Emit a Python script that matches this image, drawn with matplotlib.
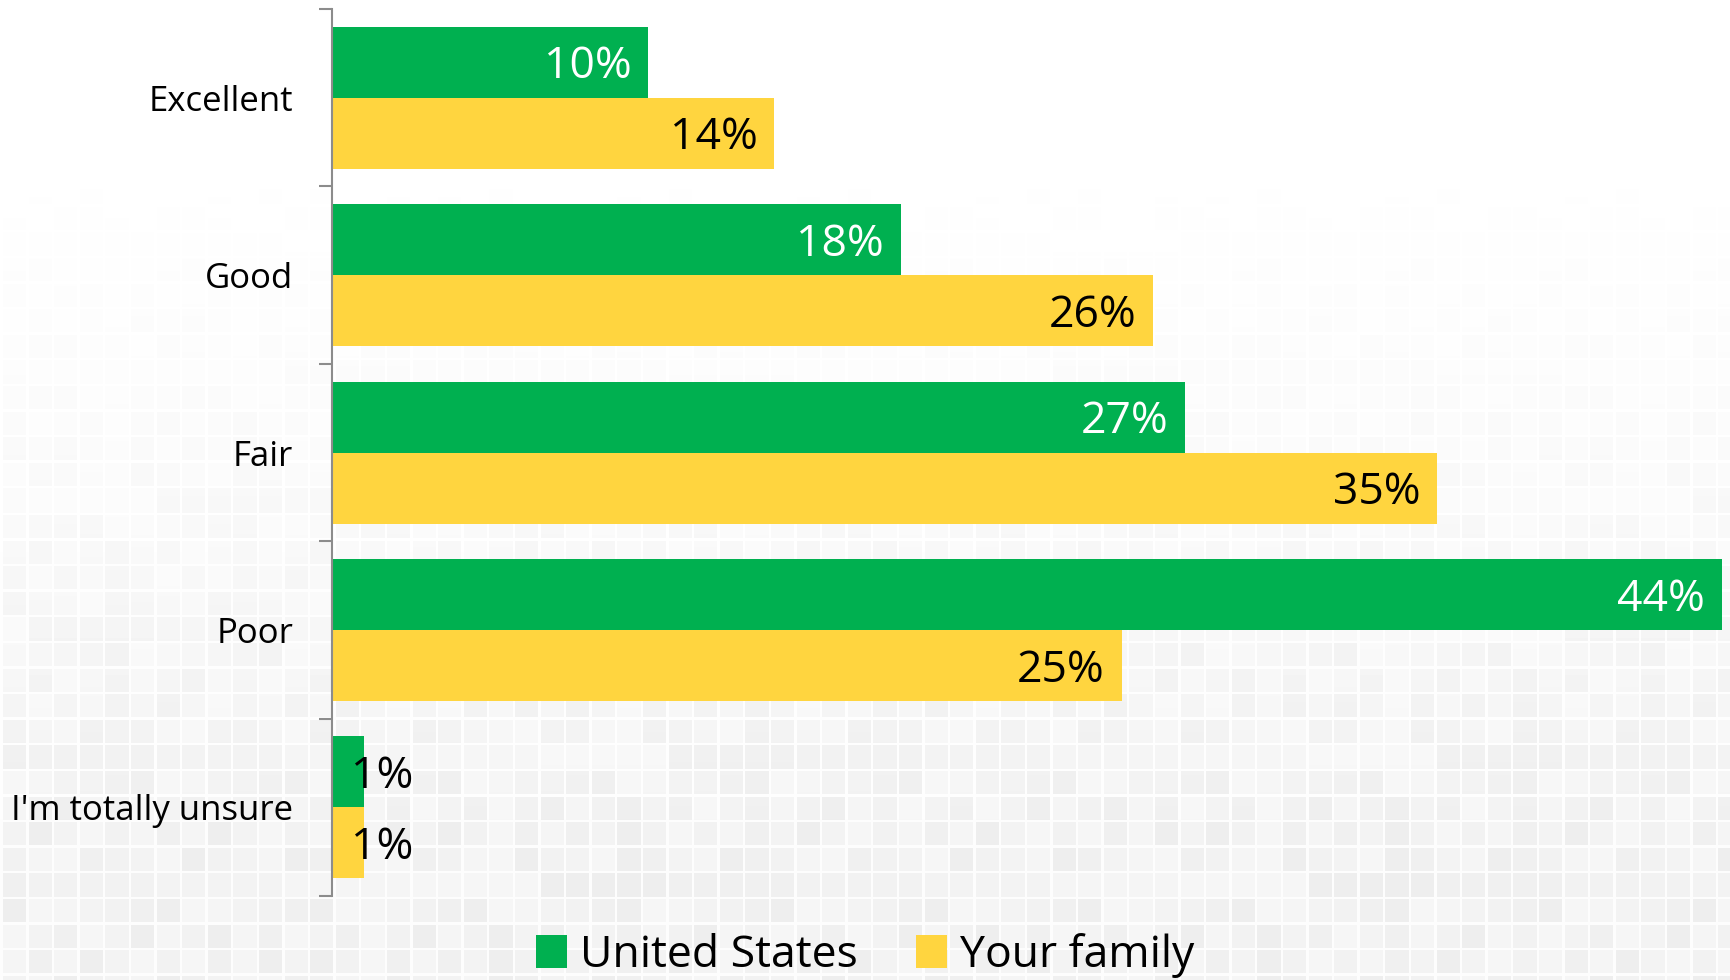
import matplotlib
matplotlib.use("Agg")
import matplotlib.pyplot as plt
import numpy as np

plt.rcParams['font.family'] = ['Open Sans', 'DejaVu Sans']

categories = ["Excellent", "Good", "Fair", "Poor", "I'm totally unsure"]
us_values = [10, 18, 27, 44, 1]
family_values = [14, 26, 35, 25, 1]
series_names = ["United States", "Your family"]

GREEN = "#00B050"
YELLOW = "#FFD53F"
AXIS_GRAY = "#8c8c8c"


def tile_background(fig):
  # decorative mosaic that fades in toward the bottom
  h, w = 980, 1730
  period = 25.6
  yy, xx = np.mgrid[0:h, 0:w]
  row = (yy // period).astype(int)
  col = (xx // period).astype(int)
  var = ((row * 7 + col * 13 + (row * col) % 5) % 6) / 5.0
  depth = np.clip((yy - 60) / 760.0, 0, 1) ** 1.6
  shade = 255 - depth * (9 + 8 * var)
  gap = ((xx % period) < 2.5) | ((yy % period) < 2.5)
  shade = np.where(gap, 255 - depth * 2, shade)
  img = np.clip(shade, 0, 255) / 255.0
  bg = fig.add_axes([0, 0, 1, 1], zorder=-10)
  bg.imshow(img, cmap="gray", vmin=0, vmax=1, aspect="auto", interpolation="nearest")
  bg.axis("off")


def plot_chart():
  fig = plt.figure(figsize=(17.3, 9.8), dpi=100)
  tile_background(fig)

  ax = fig.add_axes([0.192, 0.0857, 0.804, 0.905])
  ax.patch.set_alpha(0)

  y = np.arange(len(categories))
  bh = 0.4
  bars_us = ax.barh(y - bh / 2, us_values, height=bh, color=GREEN, label=series_names[0])
  bars_fam = ax.barh(y + bh / 2, family_values, height=bh, color=YELLOW, label=series_names[1])

  for bars, vals, inside_color in [(bars_us, us_values, "white"), (bars_fam, family_values, "black")]:
    for b, v in zip(bars, vals):
      yc = b.get_y() + b.get_height() / 2
      if v >= 5:
        ax.annotate(str(v) + "%", (v, yc), xytext=(-12, -3.5), textcoords="offset points",
                    ha="right", va="center", fontsize=32, color=inside_color)
      else:
        ax.annotate(str(v) + "%", (v, yc), xytext=(-9, -3.5), textcoords="offset points",
                    ha="left", va="center", fontsize=32, color="black")

  ax.set_xlim(0, 44.05)
  ax.set_ylim(len(categories) - 0.5, -0.5)

  for s in ["top", "right", "bottom"]:
    ax.spines[s].set_visible(False)
  ax.spines["left"].set_color(AXIS_GRAY)
  ax.spines["left"].set_linewidth(1.5)
  ax.set_xticks([])

  # boundary ticks as major, category names as minor
  ax.set_yticks(np.arange(-0.5, len(categories), 1.0))
  ax.set_yticklabels([])
  ax.tick_params(axis="y", which="major", length=9.5, width=1.5, color=AXIS_GRAY, direction="out")
  ax.set_yticks(y, minor=True)
  ax.set_yticklabels(categories, minor=True, fontsize=25)
  ax.tick_params(axis="y", which="minor", length=0, pad=28)

  fig.legend(handles=[bars_us, bars_fam], labels=series_names, loc="center",
             bbox_to_anchor=(0.5, 0.025), ncol=2, frameon=False, fontsize=32,
             handlelength=0.7, handleheight=0.75, handletextpad=0.3,
             columnspacing=1.3, borderpad=0, borderaxespad=0)

  fig.savefig("out.png", dpi=100)


if __name__ == "__main__":
  plot_chart()
